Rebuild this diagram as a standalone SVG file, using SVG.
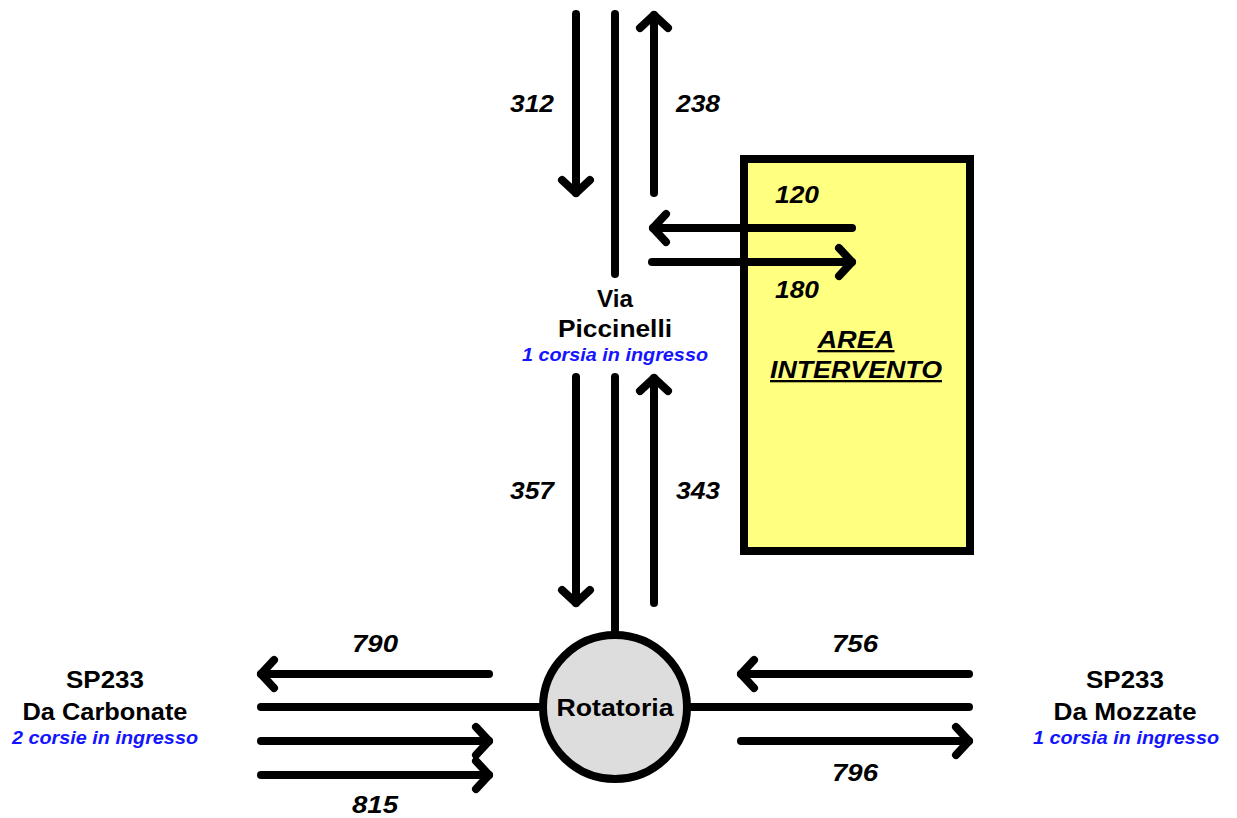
<svg xmlns="http://www.w3.org/2000/svg" width="1237" height="818" viewBox="0 0 1237 818">
<defs>
<marker id="ah" markerUnits="userSpaceOnUse" markerWidth="40" markerHeight="40" refX="20" refY="20" orient="auto" overflow="visible">
<path d="M7,6 L20,20 L7,34" fill="none" stroke="#000" stroke-width="8" stroke-linecap="round" stroke-linejoin="round"/>
</marker>
<style>
.ln{stroke:#000;stroke-width:8;stroke-linecap:round;fill:none}
.ar{stroke:#000;stroke-width:8;stroke-linecap:round;fill:none;marker-end:url(#ah)}
.num{font-family:"Liberation Sans",Arial,sans-serif;font-weight:bold;font-style:italic;font-size:23px;fill:#000;text-anchor:middle}
.lbl{font-family:"Liberation Sans",Arial,sans-serif;font-weight:bold;font-size:23px;fill:#000;text-anchor:middle}
.sub{font-family:"Liberation Sans",Arial,sans-serif;font-weight:bold;font-style:italic;font-size:18px;fill:#1414ff;text-anchor:middle}
</style>
</defs>
<rect width="1237" height="818" fill="#fff"/>
<g id="area-intervento">
<rect x="744" y="159" width="226" height="392" fill="#ffff80" stroke="#000" stroke-width="8"/>
<text class="num" x="856" y="348" font-size="24" text-decoration="underline" textLength="77" lengthAdjust="spacingAndGlyphs">AREA</text>
<text class="num" x="856" y="378" font-size="24" text-decoration="underline" textLength="172" lengthAdjust="spacingAndGlyphs">INTERVENTO</text>
</g>
<g id="connectors">
<line class="ar" x1="576" y1="14" x2="576" y2="193"/>
<line class="ln" x1="615" y1="14" x2="615" y2="274"/>
<line class="ar" x1="654" y1="193" x2="654" y2="15"/>
<line class="ar" x1="852" y1="228" x2="653" y2="228"/>
<line class="ar" x1="652" y1="262" x2="852" y2="262"/>
<line class="ar" x1="576" y1="377" x2="576" y2="603"/>
<line class="ln" x1="615" y1="377" x2="615" y2="634"/>
<line class="ar" x1="654" y1="603" x2="654" y2="378"/>
<line class="ar" x1="489" y1="674" x2="261" y2="674"/>
<line class="ln" x1="261" y1="707" x2="542" y2="707"/>
<line class="ar" x1="261" y1="741" x2="489" y2="741"/>
<line class="ar" x1="261" y1="775" x2="489" y2="775"/>
<line class="ar" x1="969" y1="674" x2="741" y2="674"/>
<line class="ln" x1="688" y1="707" x2="969" y2="707"/>
<line class="ar" x1="741" y1="741" x2="969" y2="741"/>
</g>
<g id="labels">
<text class="num" x="532" y="112" textLength="44" lengthAdjust="spacingAndGlyphs">312</text>
<text class="num" x="698" y="112" textLength="44" lengthAdjust="spacingAndGlyphs">238</text>
<text class="num" x="797" y="203" textLength="44" lengthAdjust="spacingAndGlyphs">120</text>
<text class="num" x="797" y="298" textLength="44" lengthAdjust="spacingAndGlyphs">180</text>
<text class="num" x="532" y="499" textLength="44" lengthAdjust="spacingAndGlyphs">357</text>
<text class="num" x="698" y="499" textLength="44" lengthAdjust="spacingAndGlyphs">343</text>
<text class="num" x="375" y="652" textLength="46" lengthAdjust="spacingAndGlyphs">790</text>
<text class="num" x="375" y="813" textLength="46" lengthAdjust="spacingAndGlyphs">815</text>
<text class="num" x="855" y="652" textLength="46" lengthAdjust="spacingAndGlyphs">756</text>
<text class="num" x="855" y="781" textLength="46" lengthAdjust="spacingAndGlyphs">796</text>
</g>
<g id="via-piccinelli">
<text class="lbl" x="615" y="307" textLength="36" lengthAdjust="spacingAndGlyphs">Via</text>
<text class="lbl" x="615" y="337" textLength="114" lengthAdjust="spacingAndGlyphs">Piccinelli</text>
<text class="sub" x="615" y="361" textLength="186" lengthAdjust="spacingAndGlyphs">1 corsia in ingresso</text>
</g>
<g id="da-carbonate">
<text class="lbl" x="105" y="688" textLength="78" lengthAdjust="spacingAndGlyphs">SP233</text>
<text class="lbl" x="105" y="720" textLength="165" lengthAdjust="spacingAndGlyphs">Da Carbonate</text>
<text class="sub" x="105" y="744" textLength="186" lengthAdjust="spacingAndGlyphs">2 corsie in ingresso</text>
</g>
<g id="da-mozzate">
<text class="lbl" x="1125" y="688" textLength="78" lengthAdjust="spacingAndGlyphs">SP233</text>
<text class="lbl" x="1125" y="720" textLength="143" lengthAdjust="spacingAndGlyphs">Da Mozzate</text>
<text class="sub" x="1126" y="744" textLength="186" lengthAdjust="spacingAndGlyphs">1 corsia in ingresso</text>
</g>
<g id="rotatoria">
<circle cx="615" cy="707" r="72" fill="#dddddd" stroke="#000" stroke-width="8"/>
<text class="lbl" x="615" y="716" font-size="22" textLength="117" lengthAdjust="spacingAndGlyphs">Rotatoria</text>
</g>
</svg>
